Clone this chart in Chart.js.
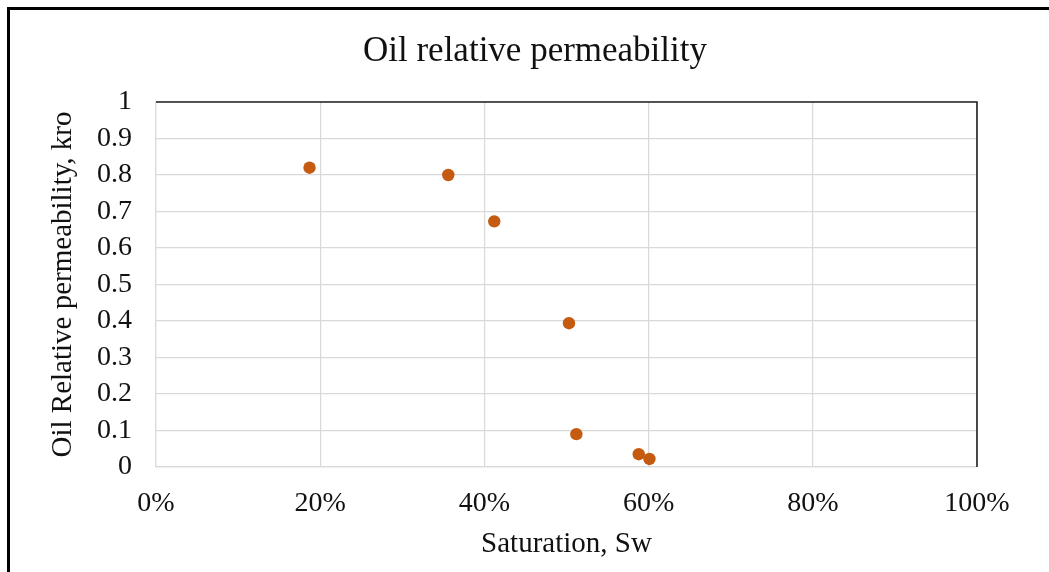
<!DOCTYPE html>
<html>
<head>
<meta charset="utf-8">
<script src="https://cdn.jsdelivr.net/npm/chart.js@4"></script>
<style>
  html, body { margin: 0; padding: 0; background: #fff; }
  #wrap { position: relative; width: 1049px; height: 572px; }
  canvas { display: block; }
</style>
</head>
<body>
<div id="wrap"><canvas id="chart" width="1049" height="572"></canvas></div>
<script>
// Water saturation (fraction) and measured oil relative permeability
const saturation = [0.187, 0.356, 0.412, 0.503, 0.512, 0.588, 0.601];
const kro        = [0.82, 0.80, 0.673, 0.394, 0.09, 0.035, 0.022];

const xTickLabels = ['0%', '20%', '40%', '60%', '80%', '100%'];
const yTickLabels = ['0', '0.1', '0.2', '0.3', '0.4', '0.5', '0.6', '0.7', '0.8', '0.9', '1'];

const chartTitle = 'Oil relative permeability';
const xTitle = 'Saturation, Sw';
const yTitle = 'Oil Relative permeability, kro';

const serif = '"Liberation Serif", "Times New Roman", serif';

const points = saturation.map((s, i) => ({ x: s, y: kro[i] }));

// Page frame, chart heading and the dark top/right edges of the plot box
const decorations = {
  id: 'decorations',
  beforeDraw(chart) {
    const ctx = chart.ctx;
    ctx.save();
    ctx.fillStyle = '#ffffff';
    ctx.fillRect(0, 0, chart.width, chart.height);
    ctx.fillStyle = '#000000';
    ctx.fillRect(7, 7, chart.width - 7, 3);
    ctx.fillRect(7, 7, 3, chart.height - 7);
    ctx.font = '35px ' + serif;
    ctx.fillStyle = '#111111';
    ctx.textAlign = 'center';
    ctx.textBaseline = 'alphabetic';
    ctx.fillText(chartTitle, 535, 61);
    ctx.restore();
  },
  afterDatasetsDraw(chart) {
    const { ctx, chartArea: a } = chart;
    ctx.save();
    ctx.strokeStyle = '#222222';
    ctx.lineWidth = 1.6;
    ctx.beginPath();
    ctx.moveTo(a.left, a.top);
    ctx.lineTo(a.right, a.top);
    ctx.lineTo(a.right, a.bottom);
    ctx.stroke();
    ctx.restore();
  }
};

new Chart(document.getElementById('chart'), {
  type: 'scatter',
  data: {
    datasets: [{
      data: points,
      backgroundColor: '#C55A11',
      borderColor: '#C55A11',
      borderWidth: 0,
      pointRadius: 6.2,
      pointHoverRadius: 6.2
    }]
  },
  options: {
    responsive: false,
    animation: false,
    events: [],
    layout: { padding: { top: 102, left: 46, right: 72, bottom: 10 } },
    plugins: {
      legend: { display: false },
      title: { display: false },
      tooltip: { enabled: false }
    },
    scales: {
      x: {
        type: 'linear',
        min: 0,
        max: 1,
        afterBuildTicks(scale) {
          scale.ticks = xTickLabels.map((_, i) => ({ value: i * 0.2 }));
        },
        afterFit(scale) { scale.height = 95; },
        ticks: {
          autoSkip: false,
          padding: 20,
          maxRotation: 0,
          color: '#111111',
          font: { family: serif, size: 28 },
          callback: (v, i) => xTickLabels[i]
        },
        grid: { color: '#d9d9d9', lineWidth: 1.2, drawTicks: false },
        border: { color: '#d9d9d9', width: 1.2 },
        title: {
          display: true,
          text: xTitle,
          color: '#111111',
          font: { family: serif, size: 29 },
          padding: 0
        }
      },
      y: {
        type: 'linear',
        min: 0,
        max: 1,
        afterBuildTicks(scale) {
          scale.ticks = yTickLabels.map((_, i) => ({ value: i / 10 }));
        },
        afterFit(scale) { scale.width = 110; },
        ticks: {
          autoSkip: false,
          padding: 24,
          color: '#111111',
          font: { family: serif, size: 28 },
          callback: (v, i) => yTickLabels[i]
        },
        grid: { color: '#d9d9d9', lineWidth: 1.2, drawTicks: false },
        border: { color: '#d9d9d9', width: 1.2 },
        title: {
          display: true,
          text: yTitle,
          color: '#111111',
          font: { family: serif, size: 29 },
          padding: 0
        }
      }
    }
  },
  plugins: [decorations]
});
</script>
</body>
</html>
